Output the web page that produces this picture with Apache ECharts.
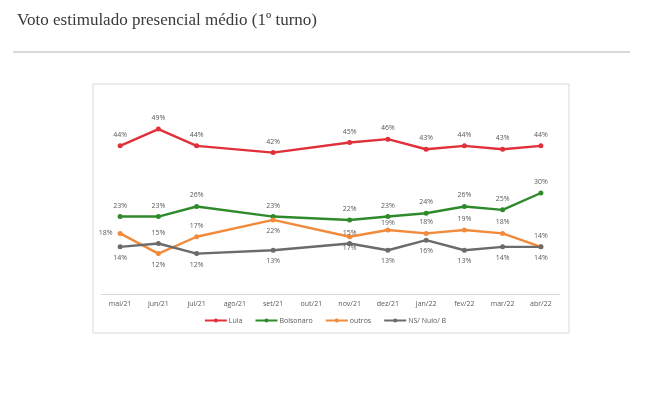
<!DOCTYPE html>
<html><head><meta charset="utf-8">
<script src="https://cdn.jsdelivr.net/npm/echarts@6/dist/echarts.min.js"></script>
<style>html,body{margin:0;padding:0;background:#fff}#c{width:650px;height:397px}</style>
</head><body><div id="c"></div>
<script>
const categories = ['mai/21','jun/21','jul/21','ago/21','set/21','out/21','nov/21','dez/21','jan/22','fev/22','mar/22','abr/22'];
const lula = [44,49,44,null,42,null,45,46,43,44,43,44];
const bolsonaro = [23,23,26,null,23,null,22,23,24,26,25,30];
const outros = [18,12,17,null,22,null,17,19,18,19,18,14];
const nsNulo = [14,15,12,null,13,null,15,13,16,13,14,14];
const outrosPos = ['left','bottom','top',null,'bottom',null,'bottom','top','top','top','top','top'];
const nsPos = ['bottom','top','bottom',null,'bottom',null,'top','bottom','bottom','bottom','bottom','bottom'];

const lbl = {show:true, position:'top', formatter: p => p.value + '%', fontSize:7, color:'#595959', fontFamily:'Open Sans', distance:5};
function withPos(vals, pos, tight){
  return vals.map((v,i)=> v==null ? null : {value:v, label:{position:pos[i], distance: tight && tight[i] ? 1 : 5}});
}
function mk(name, data, color){
  return {name, type:'line', data, connectNulls:true, symbol:'circle', symbolSize:5,
    lineStyle:{width:2.4, color}, itemStyle:{color}, label:lbl};
}
const chart = echarts.init(document.getElementById('c'));
chart.setOption({
  animation:false,
  title:{text:'Voto estimulado presencial médio (1º turno)', left:12, top:7,
    textStyle:{fontFamily:'Liberation Serif', fontSize:17, fontWeight:'normal', color:'#3a3a3a'}},
  graphic:[
    {type:'line', shape:{x1:13,y1:52,x2:630,y2:52}, style:{stroke:'#b4b4b4', lineWidth:1.2}},
    {type:'rect', shape:{x:93,y:84,width:476,height:249}, style:{fill:'none', stroke:'#d9d9d9', lineWidth:1}, z:-1}
  ],
  grid:{left:101, right:90, top:92, bottom:103},
  xAxis:{type:'category', data:categories, boundaryGap:true,
    axisLine:{lineStyle:{color:'#d9d9d9'}}, axisTick:{show:false},
    axisLabel:{fontSize:7, color:'#595959', fontFamily:'Open Sans', margin:6, interval:0}},
  yAxis:{type:'value', min:0, max:60, show:false, splitLine:{show:false}},
  legend:{bottom:68, left:'center', itemWidth:22, itemHeight:5, itemGap:12,
    textStyle:{fontSize:7, color:'#595959', fontFamily:'Open Sans', padding:[0,0,0,-3]},
    data:['Lula','Bolsonaro','outros','NS/ Nulo/ B']},
  series:[
    mk('Lula', lula, '#e0303a'),
    mk('Bolsonaro', bolsonaro, '#2f8a2b'),
    mk('outros', withPos(outros, outrosPos, [0,0,0,0,0,0,0,1,0,0,0,0]), '#f28a3c'),
    mk('NS/ Nulo/ B', withPos(nsNulo, nsPos), '#6b6b6b')
  ]
});
</script></body></html>
